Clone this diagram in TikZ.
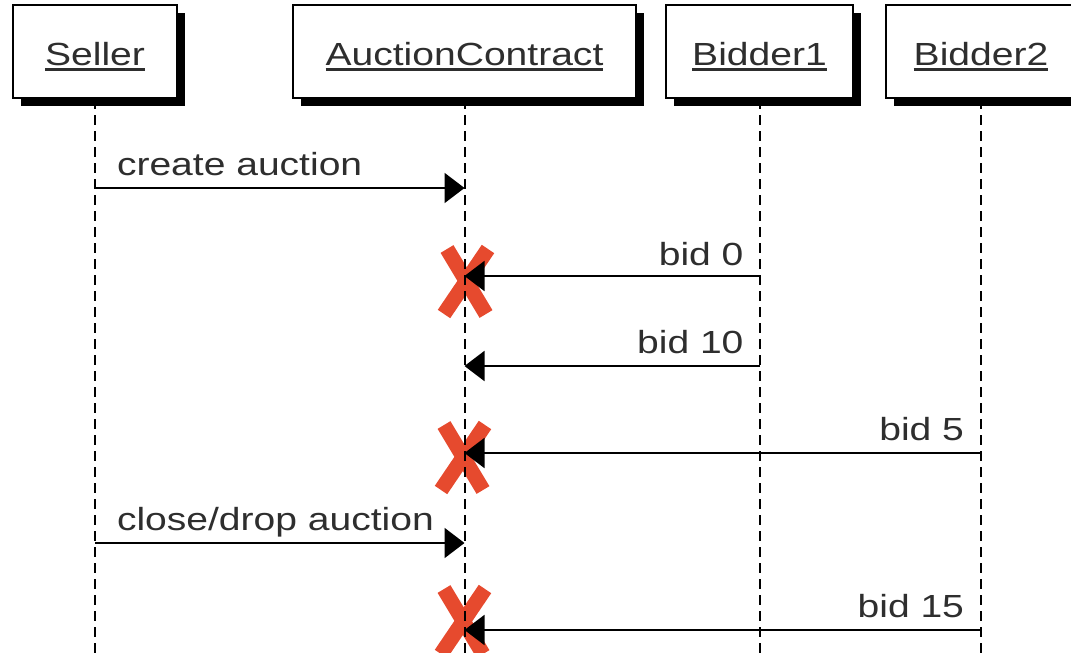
\documentclass[tikz,border=0pt]{standalone}
\usepackage{fontspec}
\setmainfont{Liberation Sans}[FakeStretch=1.22]
\usetikzlibrary{arrows.meta,shadows}
\definecolor{xred}{HTML}{E64A2E}
\newcommand\myul[1]{\setbox0\hbox{#1}\rlap{\rule[-6pt]{\wd0}{2.6pt}}\box0}
\tikzset{
  actor/.style={draw=black, line width=2pt, fill=white, minimum height=93pt, inner sep=0pt,
    general shadow={fill=black, shadow xshift=8pt, shadow yshift=-8pt},
    font=\fontsize{32}{38}\selectfont, text=black!82, text height=27pt, text depth=0pt},
  life/.style={line width=2pt, dash pattern=on 10pt off 6pt},
  msg/.style={line width=2pt, -{Triangle[length=20pt,width=30pt]}},
  lbl/.style={font=\fontsize{32}{38}\selectfont, text=black!82, inner sep=0pt},
  xmark/.style={draw=xred, line width=15pt},
}
\begin{document}
\begin{tikzpicture}[x=1pt,y=-1pt]
\useasboundingbox (0,0) rectangle (1071,653);
\node[actor, minimum width=164pt] (s) at (95,51.5) {\myul{Seller}};
\node[actor, minimum width=343pt] (ac) at (464.5,51.5) {\myul{AuctionContract}};
\node[actor, minimum width=187pt] (b1) at (759.5,51.5) {\myul{Bidder1}};
\node[actor, minimum width=190pt] (b2) at (981,51.5) {\myul{Bidder2}};
\coordinate (bot) at (0,660);
\coordinate (m1) at (0,188);
\coordinate (m2) at (0,276);
\coordinate (m3) at (0,366);
\coordinate (m4) at (0,453);
\coordinate (m5) at (0,543);
\coordinate (m6) at (0,630);
% red crosses
\foreach \c in {(466,282),(463,458),(463,622)}{
  \draw[xmark] \c ++(-19,-33) -- ++(39,65);
  \draw[xmark] \c ++(22,-33) -- ++(-44,65);
}
% lifelines
\draw[life] (s.south) -- (s |- bot);
\draw[life] (ac.south) -- (ac |- bot);
\draw[life] (b1.south) -- (b1 |- bot);
\draw[life] (b2.south) -- (b2 |- bot);
% messages
\draw[msg] (s |- m1) -- (ac |- m1) node[lbl, pos=0, anchor=base west, xshift=21pt, yshift=13pt] {create auction};
\draw[msg] (b1 |- m2) -- (ac |- m2) node[lbl, pos=0, anchor=base east, xshift=-15pt, yshift=11pt] {bid 0};
\draw[msg] (b1 |- m3) -- (ac |- m3) node[lbl, pos=0, anchor=base east, xshift=-15pt, yshift=13pt] {bid 10};
\draw[msg] (b2 |- m4) -- (ac |- m4) node[lbl, pos=0, anchor=base east, xshift=-16pt, yshift=13pt] {bid 5};
\draw[msg] (s |- m5) -- (ac |- m5) node[lbl, pos=0, anchor=base west, xshift=21pt, yshift=13pt] {close/drop auction};
\draw[msg] (b2 |- m6) -- (ac |- m6) node[lbl, pos=0, anchor=base east, xshift=-16pt, yshift=13pt] {bid 15};
\end{tikzpicture}
\end{document}
